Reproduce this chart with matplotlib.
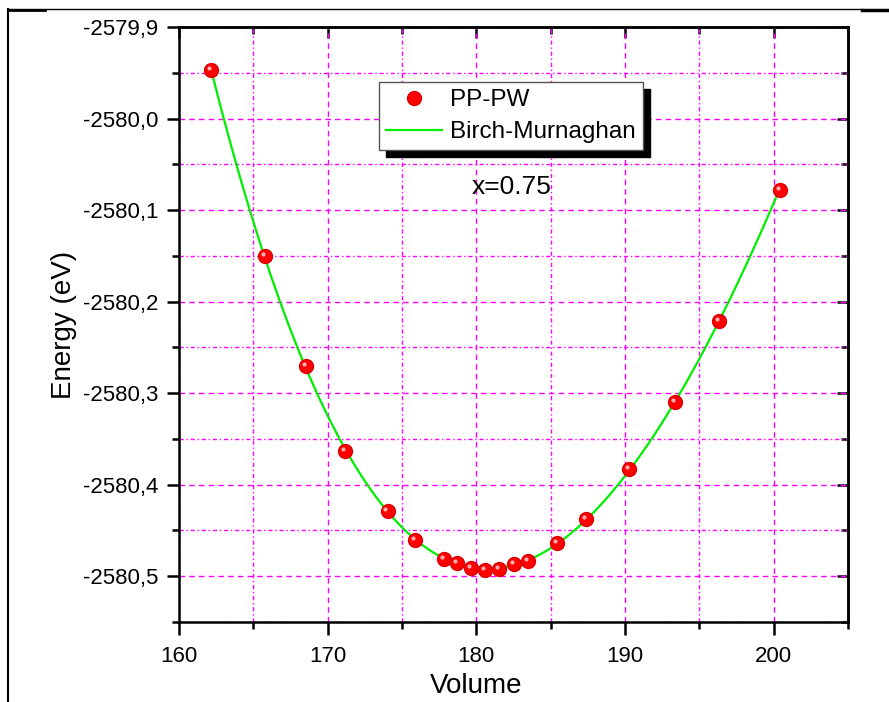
import matplotlib.pyplot as plt
import numpy as np
from matplotlib.lines import Line2D
from matplotlib.ticker import MultipleLocator, FuncFormatter
import matplotlib.transforms as mtransforms

plt.rcParams['font.family'] = ['Liberation Sans', 'DejaVu Sans']

# Volume / energy points (PP-PW)
volume = [162.15, 165.77, 168.52, 171.2, 174.03, 175.9, 177.8, 178.7, 179.66,
          180.6, 181.5, 182.55, 183.5, 185.4, 187.4, 190.3, 193.36, 196.3, 200.4]
energy = [-2579.947, -2580.150, -2580.270, -2580.363, -2580.429, -2580.460,
          -2580.481, -2580.486, -2580.491, -2580.493, -2580.492, -2580.487,
          -2580.483, -2580.464, -2580.438, -2580.383, -2580.310, -2580.221,
          -2580.078]

V = np.array(volume)
E = np.array(energy)

# Birch-Murnaghan (3rd order) = cubic polynomial in V^(-2/3)
coef = np.polyfit(V ** (-2.0 / 3.0), E, 3)
v_fit = np.linspace(V.min(), V.max(), 300)
e_fit = np.polyval(coef, v_fit ** (-2.0 / 3.0))

fig = plt.figure(figsize=(8.89, 7.02), dpi=100)
ax = fig.add_axes([0.2013, 0.114, 0.7526, 0.8475])

# grid
ax.xaxis.set_major_locator(MultipleLocator(10))
ax.xaxis.set_minor_locator(MultipleLocator(5))
ax.yaxis.set_major_locator(MultipleLocator(0.1))
ax.yaxis.set_minor_locator(MultipleLocator(0.05))
ax.grid(which='major', color='#ff00ff', linestyle=(0, (4, 3)), linewidth=1)
ax.grid(which='minor', color='#ff00ff', linestyle=(0, (3, 2, 1, 2)), linewidth=1)
ax.set_axisbelow(True)

fit_line, = ax.plot(v_fit, e_fit, color='#00ee00', linewidth=1.6, zorder=3)
pts, = ax.plot(V, E, 'o', color='#ff0000', markeredgecolor='#dd0000', markersize=10,
               linestyle='none', zorder=4)
# little highlight on each sphere
hl = mtransforms.offset_copy(ax.transData, fig=fig, x=-1.5, y=1.5, units='points')
ax.plot(V, E, 'o', color='#ffb0b0', markeredgewidth=0, markersize=3,
        transform=hl, zorder=5)

ax.set_xlim(160, 205)
ax.set_ylim(-2580.55, -2579.9)
ax.yaxis.set_major_formatter(FuncFormatter(lambda v, p: f'{v:.1f}'.replace('.', ',')))

for s in ax.spines.values():
    s.set_linewidth(1.8)
ax.tick_params(which='major', direction='out', length=9, width=1.8, labelsize=16)
ax.tick_params(which='minor', direction='out', length=5, width=1.8)
ax.tick_params(axis='y', pad=6)
ax.tick_params(axis='x', pad=8)
# top and right ticks drawn inward
sec_x = ax.secondary_xaxis('top')
sec_x.xaxis.set_major_locator(MultipleLocator(10))
sec_x.xaxis.set_minor_locator(MultipleLocator(5))
sec_x.tick_params(which='both', direction='in', width=1.8, labeltop=False)
sec_x.tick_params(which='major', length=8)
sec_x.tick_params(which='minor', length=5)
sec_x.spines['top'].set_linewidth(1.8)
sec_y = ax.secondary_yaxis('right')
sec_y.yaxis.set_major_locator(MultipleLocator(0.1))
sec_y.yaxis.set_minor_locator(MultipleLocator(0.05))
sec_y.tick_params(which='both', direction='in', width=1.8, labelright=False)
sec_y.tick_params(which='major', length=8)
sec_y.tick_params(which='minor', length=5)
sec_y.spines['right'].set_linewidth(1.8)

ax.set_xlabel('Volume', fontsize=20, labelpad=2)
ax.xaxis.set_label_coords(0.444, -0.085)
ax.set_ylabel('Energy (eV)', fontsize=20, labelpad=4)

leg = fig.legend([pts, fit_line], ['PP-PW', 'Birch-Murnaghan'],
                 loc='upper left', bbox_to_anchor=(0.4263, 0.8832),
                 fontsize=17.5, frameon=True, fancybox=False, edgecolor='#555555',
                 framealpha=1, handlelength=2.3, handletextpad=0.32,
                 borderpad=0.3, labelspacing=0.4, borderaxespad=0,
                 shadow={'color': 'black', 'alpha': 1, 'ox': 5, 'oy': -5})
leg.get_frame().set_linewidth(1)

fig.text(512 / 889, 1 - 187 / 702, 'x=0.75', fontsize=19, ha='center', va='center')

# page frame lines
fig.add_artist(Line2D([8 / 889, 8 / 889], [0, 1 - 9 / 702], color='black', linewidth=1.5))
fig.add_artist(Line2D([8 / 889, 862 / 889], [1 - 9 / 702, 1 - 9 / 702], color='black', linewidth=1))
fig.add_artist(Line2D([8 / 889, 45 / 889], [1 - 10 / 702, 1 - 10 / 702], color='black', linewidth=2))
fig.add_artist(Line2D([862 / 889, 1], [1 - 10 / 702, 1 - 10 / 702], color='black', linewidth=2.5))

fig.savefig('out.png', dpi=100)
